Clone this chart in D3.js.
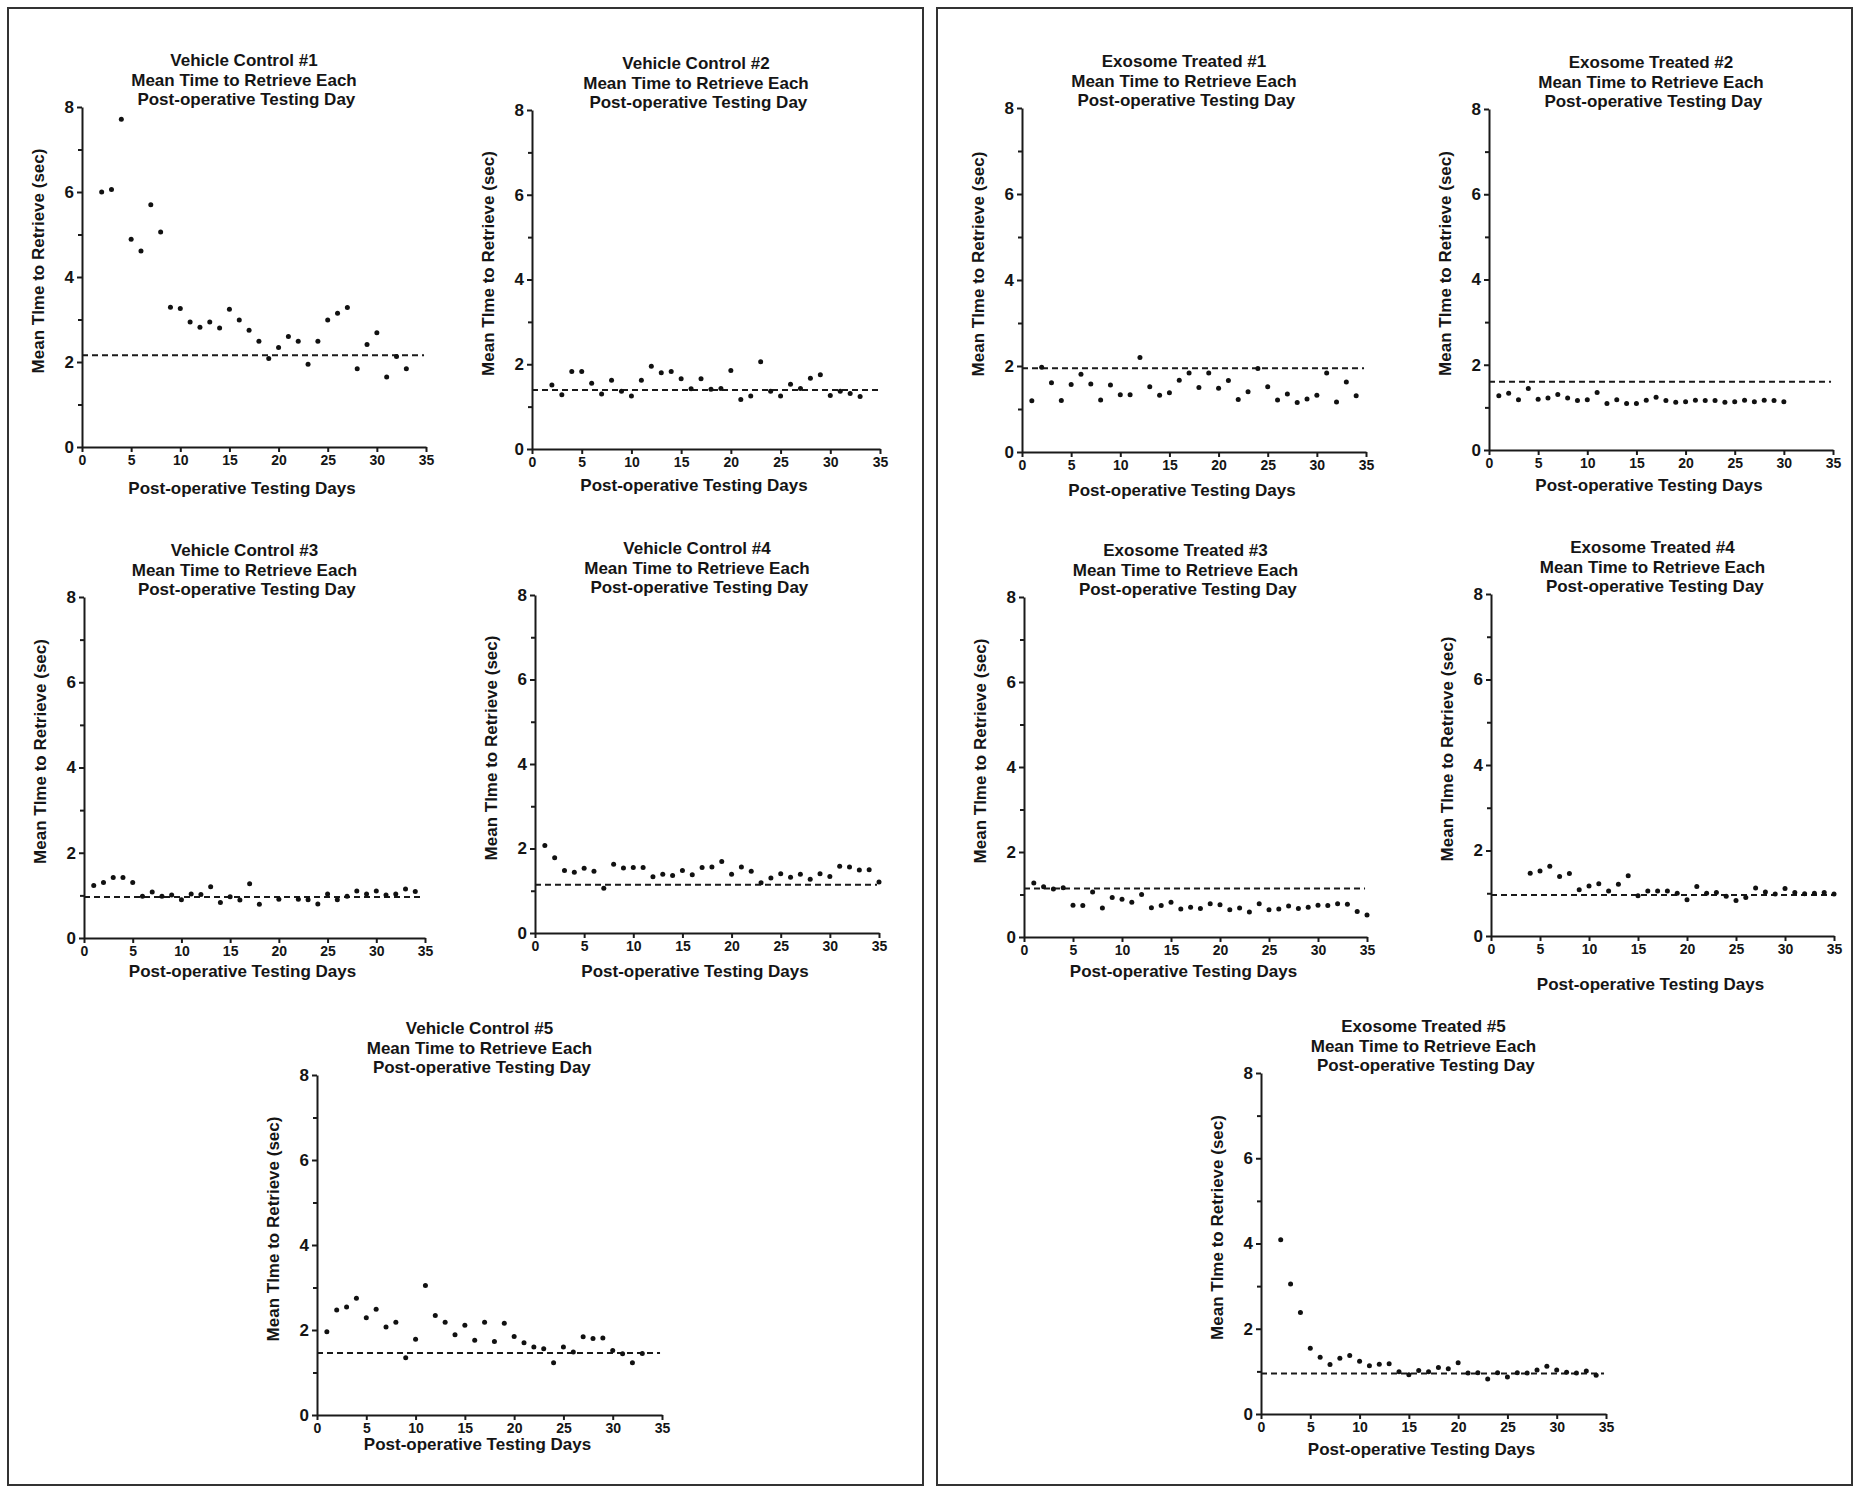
<!DOCTYPE html>
<html>
<head>
<meta charset="utf-8">
<script src="https://cdn.jsdelivr.net/npm/d3@7"></script>
<style>
  body { margin: 0; background: #fff; }
  text { font-family: "Liberation Sans", Arial, sans-serif; font-weight: bold; fill: #151515; }
  .domain, .tick line { stroke: #1a1a1a; stroke-width: 2; }
</style>
</head>
<body>
<svg id="chart" width="1860" height="1493"></svg>
<script>
// values, per animal: testing day and mean retrieval time (sec)
const vc1Days = [2, 3, 4, 5, 6, 7, 8, 9, 10, 11, 12, 13, 14, 15, 16, 17, 18, 19, 20, 21, 22, 23, 24, 25, 26, 27, 28, 29, 30, 31, 32, 33];
const vc1Times = [6.00, 6.06, 7.71, 4.89, 4.61, 5.70, 5.06, 3.29, 3.26, 2.94, 2.82, 2.94, 2.80, 3.24, 2.99, 2.75, 2.49, 2.08, 2.34, 2.60, 2.49, 1.95, 2.49, 2.99, 3.15, 3.28, 1.84, 2.41, 2.69, 1.65, 2.13, 1.84];

const vc2Days = [2, 3, 4, 5, 6, 7, 8, 9, 10, 11, 12, 13, 14, 15, 16, 17, 18, 19, 20, 21, 22, 23, 24, 25, 26, 27, 28, 29, 30, 31, 32, 33];
const vc2Times = [1.51, 1.28, 1.83, 1.83, 1.55, 1.30, 1.62, 1.36, 1.25, 1.62, 1.95, 1.80, 1.83, 1.66, 1.42, 1.66, 1.41, 1.43, 1.85, 1.17, 1.25, 2.06, 1.36, 1.25, 1.53, 1.43, 1.67, 1.75, 1.26, 1.36, 1.31, 1.24];

const vc3Days = [1, 2, 3, 4, 5, 6, 7, 8, 9, 10, 11, 12, 13, 14, 15, 16, 17, 18, 20, 22, 23, 24, 25, 26, 27, 28, 29, 30, 31, 32, 33, 34];
const vc3Times = [1.23, 1.30, 1.42, 1.42, 1.30, 0.98, 1.08, 0.98, 1.01, 0.90, 1.03, 1.02, 1.20, 0.83, 0.97, 0.89, 1.27, 0.79, 0.91, 0.91, 0.90, 0.80, 1.03, 0.90, 0.98, 1.10, 1.03, 1.10, 1.01, 1.03, 1.15, 1.09];

const vc4Days = [1, 2, 3, 4, 5, 6, 7, 8, 9, 10, 11, 12, 13, 14, 15, 16, 17, 18, 19, 20, 21, 22, 23, 24, 25, 26, 27, 28, 29, 30, 31, 32, 33, 34, 35];
const vc4Times = [2.07, 1.78, 1.48, 1.44, 1.53, 1.46, 1.06, 1.63, 1.54, 1.55, 1.55, 1.33, 1.39, 1.36, 1.48, 1.38, 1.55, 1.56, 1.69, 1.39, 1.56, 1.46, 1.19, 1.30, 1.40, 1.32, 1.39, 1.27, 1.40, 1.34, 1.58, 1.56, 1.49, 1.50, 1.21];

const vc5Days = [1, 2, 3, 4, 5, 6, 7, 8, 9, 10, 11, 12, 13, 14, 15, 16, 17, 18, 19, 20, 21, 22, 23, 24, 25, 26, 27, 28, 29, 30, 31, 32, 33];
const vc5Times = [1.96, 2.47, 2.54, 2.75, 2.29, 2.49, 2.07, 2.18, 1.35, 1.78, 3.05, 2.34, 2.18, 1.89, 2.11, 1.76, 2.18, 1.73, 2.16, 1.85, 1.70, 1.60, 1.56, 1.23, 1.60, 1.48, 1.84, 1.80, 1.81, 1.52, 1.44, 1.23, 1.45];

const et1Days = [1, 2, 3, 4, 5, 6, 7, 8, 9, 10, 11, 12, 13, 14, 15, 16, 17, 18, 19, 20, 21, 22, 23, 24, 25, 26, 27, 28, 29, 30, 31, 32, 33, 34];
const et1Times = [1.19, 1.97, 1.61, 1.20, 1.57, 1.81, 1.58, 1.21, 1.56, 1.33, 1.33, 2.20, 1.52, 1.32, 1.38, 1.67, 1.84, 1.50, 1.84, 1.48, 1.66, 1.22, 1.40, 1.94, 1.52, 1.21, 1.35, 1.15, 1.23, 1.32, 1.84, 1.16, 1.63, 1.31];

const et2Days = [1, 2, 3, 4, 5, 6, 7, 8, 9, 10, 11, 12, 13, 14, 15, 16, 17, 18, 19, 20, 21, 22, 23, 24, 25, 26, 27, 28, 29, 30];
const et2Times = [1.27, 1.33, 1.18, 1.44, 1.19, 1.22, 1.30, 1.22, 1.16, 1.18, 1.35, 1.09, 1.18, 1.09, 1.09, 1.17, 1.24, 1.16, 1.12, 1.13, 1.17, 1.16, 1.16, 1.12, 1.13, 1.17, 1.13, 1.17, 1.16, 1.13];

const et3Days = [1, 2, 3, 4, 5, 6, 7, 8, 9, 10, 11, 12, 13, 14, 15, 16, 17, 18, 19, 20, 21, 22, 23, 24, 25, 26, 27, 28, 29, 30, 31, 32, 33, 34, 35];
const et3Times = [1.27, 1.18, 1.13, 1.16, 0.75, 0.74, 1.06, 0.68, 0.93, 0.89, 0.82, 1.00, 0.69, 0.74, 0.82, 0.66, 0.70, 0.67, 0.78, 0.76, 0.64, 0.68, 0.59, 0.78, 0.64, 0.66, 0.73, 0.67, 0.70, 0.75, 0.74, 0.78, 0.77, 0.60, 0.52];

const et4Days = [4, 5, 6, 7, 8, 9, 10, 11, 12, 13, 14, 15, 16, 17, 18, 19, 20, 21, 22, 23, 24, 25, 26, 27, 28, 29, 30, 31, 32, 33, 34, 35];
const et4Times = [1.47, 1.52, 1.63, 1.39, 1.46, 1.08, 1.17, 1.22, 1.05, 1.21, 1.41, 0.94, 1.05, 1.05, 1.05, 1.00, 0.85, 1.16, 1.00, 1.02, 0.93, 0.83, 0.90, 1.12, 1.03, 0.98, 1.11, 1.02, 0.99, 1.00, 1.02, 0.98];

const et5Days = [2, 3, 4, 5, 6, 7, 8, 9, 10, 11, 12, 13, 14, 15, 16, 17, 18, 19, 20, 21, 22, 23, 24, 25, 26, 27, 28, 29, 30, 31, 32, 33, 34];
const et5Times = [4.09, 3.05, 2.38, 1.54, 1.33, 1.16, 1.31, 1.37, 1.24, 1.13, 1.17, 1.18, 0.99, 0.92, 1.02, 0.99, 1.09, 1.06, 1.20, 0.96, 0.97, 0.82, 0.97, 0.87, 0.97, 0.96, 1.03, 1.12, 1.03, 0.98, 0.96, 1.01, 0.91];

// dashed reference line (overall mean) for each animal
const meanTimes = [2.16, 1.39, 0.96, 1.14, 1.46, 1.95, 1.60, 1.14, 0.96, 0.95];

const panelNames = ['Vehicle Control #1', 'Vehicle Control #2', 'Vehicle Control #3', 'Vehicle Control #4', 'Vehicle Control #5',
  'Exosome Treated #1', 'Exosome Treated #2', 'Exosome Treated #3', 'Exosome Treated #4', 'Exosome Treated #5'];
const titleLines = ['Mean Time to Retrieve Each', ' Post-operative Testing Day'];
const xTickValues = [0, 5, 10, 15, 20, 25, 30, 35];
const yTickValues = [0, 2, 4, 6, 8];
const yMinorTicks = [1, 3, 5, 7];

const series = [
  [vc1Days, vc1Times], [vc2Days, vc2Times], [vc3Days, vc3Times], [vc4Days, vc4Times], [vc5Days, vc5Times],
  [et1Days, et1Times], [et2Days, et2Times], [et3Days, et3Times], [et4Days, et4Times], [et5Days, et5Times]
];

// plot boxes in page pixels: left, top, width, height, gap to x-axis title baseline
const layout = [
  { left: 82, top: 107, w: 344, h: 340, xGap: 47 },
  { left: 532, top: 110, w: 348, h: 339, xGap: 42 },
  { left: 84, top: 597, w: 341, h: 341, xGap: 39 },
  { left: 535, top: 595, w: 344, h: 338, xGap: 44 },
  { left: 317, top: 1075, w: 345, h: 340, xGap: 35 },
  { left: 1022, top: 108, w: 344, h: 344, xGap: 44 },
  { left: 1489, top: 109, w: 344, h: 341, xGap: 41 },
  { left: 1024, top: 597, w: 343, h: 340, xGap: 40 },
  { left: 1491, top: 594, w: 343, h: 342, xGap: 54 },
  { left: 1261, top: 1073, w: 345, h: 341, xGap: 41 }
];

const svg = d3.select('#chart');

// the two group frames
svg.append('rect').attr('x', 8).attr('y', 8).attr('width', 915).attr('height', 1477)
  .attr('fill', 'none').attr('stroke', '#333').attr('stroke-width', 2);
svg.append('rect').attr('x', 937).attr('y', 8).attr('width', 915).attr('height', 1477)
  .attr('fill', 'none').attr('stroke', '#333').attr('stroke-width', 2);

function drawPanel(i) {
  const box = layout[i];
  const [days, times] = series[i];
  const g = svg.append('g').attr('transform', `translate(${box.left},${box.top})`);

  const x = d3.scaleLinear().domain([0, 35]).range([0, box.w]);
  const y = d3.scaleLinear().domain([0, 8]).range([box.h, 0]);

  // minor y ticks first, major on top
  g.append('g')
    .call(d3.axisLeft(y).tickValues(yMinorTicks).tickSize(4).tickFormat(''))
    .call((a) => a.select('.domain').remove());
  const yAxis = g.append('g')
    .call(d3.axisLeft(y).tickValues(yTickValues).tickSize(5).tickSizeOuter(0).tickPadding(3));
  yAxis.selectAll('text').style('font-size', '17px');

  const xAxis = g.append('g').attr('transform', `translate(0,${box.h})`)
    .call(d3.axisBottom(x).tickValues(xTickValues).tickSize(5).tickSizeOuter(0).tickPadding(3));
  xAxis.selectAll('text').style('font-size', '14px');

  // dashed mean line
  g.append('line')
    .attr('x1', x(0)).attr('x2', x(34.8))
    .attr('y1', y(meanTimes[i])).attr('y2', y(meanTimes[i]))
    .attr('stroke', '#1a1a1a').attr('stroke-width', 2).attr('stroke-dasharray', '6,4');

  g.selectAll('circle.pt')
    .data(days.map((d, k) => ({ day: d, t: times[k] })))
    .join('circle')
    .attr('class', 'pt')
    .attr('cx', (d) => x(d.day))
    .attr('cy', (d) => y(d.t))
    .attr('r', 2.5)
    .attr('fill', '#111');

  // title, three lines
  const title = g.append('text')
    .attr('text-anchor', 'middle')
    .style('font-size', '17px');
  [panelNames[i], ...titleLines].forEach((line, k) => {
    title.append('tspan')
      .attr('x', box.w / 2 - 10)
      .attr('y', -41 + k * 19.5)
      .attr('xml:space', 'preserve')
      .text(line);
  });

  g.append('text')
    .attr('text-anchor', 'middle')
    .attr('x', box.w / 2 - 12)
    .attr('y', box.h + box.xGap)
    .style('font-size', '17px')
    .text('Post-operative Testing Days');

  g.append('text')
    .attr('text-anchor', 'middle')
    .attr('transform', `translate(-38,${box.h / 2 - 16}) rotate(-90)`)
    .style('font-size', '17px')
    .text('Mean TIme to Retrieve (sec)');
}

series.forEach((_, i) => drawPanel(i));
</script>
</body>
</html>
